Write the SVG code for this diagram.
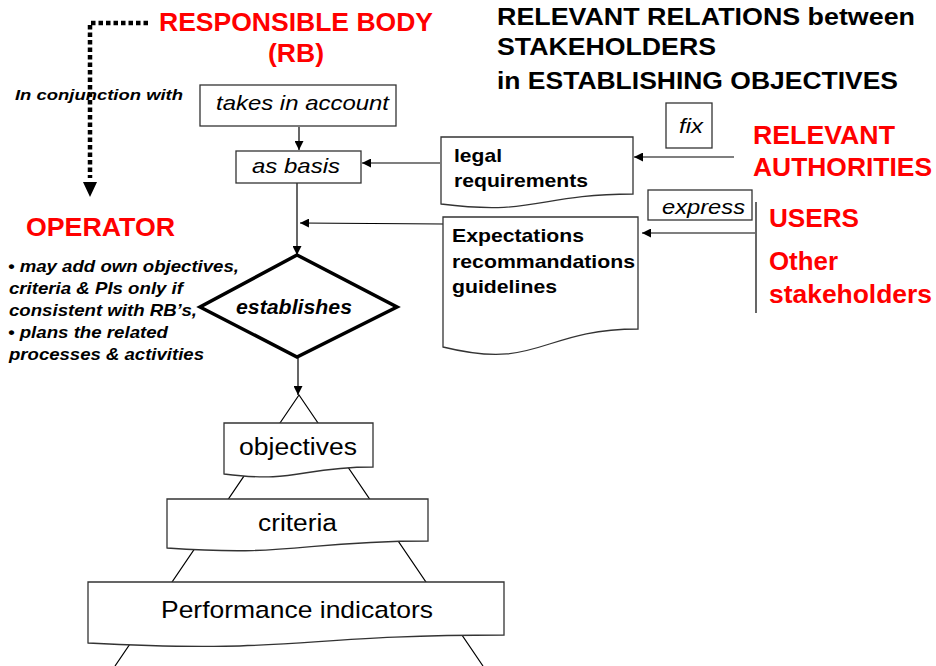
<svg xmlns="http://www.w3.org/2000/svg" width="936" height="666" viewBox="0 0 936 666">
<defs>
<marker id="ah" viewBox="0 0 10 10" refX="10" refY="5" markerWidth="9" markerHeight="9" markerUnits="userSpaceOnUse" orient="auto"><path d="M0,0 L10,5 L0,10 Z" fill="#000"/></marker>
<style>
.box{fill:#fff;stroke:#333;stroke-width:1.3}
.ln{stroke:#000;stroke-width:1.2;fill:none}
.red{fill:#ff0000;font-family:"Liberation Sans",Arial,sans-serif;font-weight:bold;font-size:26px}
.blk{fill:#000;font-family:"Liberation Sans",Arial,sans-serif}
.it{font-style:italic}
.b{font-weight:bold}
</style>
</defs>
<rect width="936" height="666" fill="#fff"/>

<g id="connectors">
<path d="M148,23 H90 V178" stroke="#000" stroke-width="4.5" stroke-dasharray="4.5 3" fill="none"/>
<path d="M83,182 L97,182 L90,197 Z" fill="#000"/>
<line class="ln" x1="299" y1="127" x2="299" y2="150" marker-end="url(#ah)"/>
<line class="ln" x1="440" y1="163" x2="362" y2="163" marker-end="url(#ah)"/>
<line class="ln" x1="297" y1="183" x2="297" y2="255" marker-end="url(#ah)"/>
<line class="ln" x1="443" y1="224" x2="300" y2="223" marker-end="url(#ah)"/>
<line class="ln" x1="298" y1="357" x2="298" y2="395" marker-end="url(#ah)"/>
<line class="ln" x1="734" y1="157" x2="634" y2="157" marker-end="url(#ah)"/>
<line class="ln" x1="755" y1="233" x2="642" y2="233" marker-end="url(#ah)"/>
<line class="ln" x1="756" y1="202" x2="756" y2="313"/>
<path class="ln" d="M115,666 L299,395 L483,666"/>
</g>

<g id="titles">
<text class="red" x="159" y="31" textLength="274" lengthAdjust="spacingAndGlyphs">RESPONSIBLE BODY</text>
<text class="red" x="268" y="62" textLength="56" lengthAdjust="spacingAndGlyphs">(RB)</text>
<text class="blk b" font-size="24" x="497" y="25" textLength="418" lengthAdjust="spacingAndGlyphs">RELEVANT RELATIONS between</text>
<text class="blk b" font-size="24" x="497" y="55" textLength="219" lengthAdjust="spacingAndGlyphs">STAKEHOLDERS</text>
<text class="blk b" font-size="24" x="497" y="89" textLength="401" lengthAdjust="spacingAndGlyphs">in ESTABLISHING OBJECTIVES</text>
<text class="blk b it" font-size="15.5" x="15" y="100" textLength="168" lengthAdjust="spacingAndGlyphs">In conjunction with</text>
</g>

<g id="takes">
<rect class="box" x="200" y="85" width="196" height="41"/>
<text class="blk it" font-size="21" x="216" y="110" textLength="173" lengthAdjust="spacingAndGlyphs">takes in account</text>
</g>

<g id="asbasis">
<rect class="box" x="236" y="151" width="125" height="32"/>
<text class="blk it" font-size="21" x="252" y="173" textLength="88" lengthAdjust="spacingAndGlyphs">as basis</text>
</g>

<g id="establishes">
<path d="M297,255 L397,307 L297,357 L200,307 Z" fill="#fff" stroke="#000" stroke-width="3.5" stroke-linejoin="miter"/>
<text class="blk b it" font-size="20" x="236" y="314" textLength="116" lengthAdjust="spacingAndGlyphs">establishes</text>
</g>

<g id="operator">
<text class="red" x="26" y="236" textLength="149" lengthAdjust="spacingAndGlyphs">OPERATOR</text>
<text class="blk b it" font-size="16.5">
<tspan x="8" y="272" textLength="231" lengthAdjust="spacingAndGlyphs">• may add own objectives,</tspan>
<tspan x="9" y="294" textLength="174" lengthAdjust="spacingAndGlyphs">criteria &amp; PIs only if</tspan>
<tspan x="9" y="316" textLength="188" lengthAdjust="spacingAndGlyphs">consistent with RB’s,</tspan>
<tspan x="8" y="338" textLength="160" lengthAdjust="spacingAndGlyphs">• plans the related</tspan>
<tspan x="9" y="360" textLength="195" lengthAdjust="spacingAndGlyphs">processes &amp; activities</tspan>
</text>
</g>

<g id="objectives">
<path class="box" d="M224,423 H373 V467 C298.5,467 298.5,483.5 224,474 Z"/>
<text class="blk" font-size="23" x="239" y="455" textLength="118" lengthAdjust="spacingAndGlyphs">objectives</text>
</g>

<g id="criteria">
<path class="box" d="M167,499 H428 V541 C297.5,541 297.5,557 167,548 Z"/>
<text class="blk" font-size="23" x="258" y="531" textLength="79" lengthAdjust="spacingAndGlyphs">criteria</text>
</g>

<g id="pi">
<path class="box" d="M88,582 H504 V635 C296,635 296,654 88,643 Z"/>
<text class="blk" font-size="24.5" x="161" y="618" textLength="272" lengthAdjust="spacingAndGlyphs">Performance indicators</text>
</g>

<g id="legal">
<path class="box" d="M441,137 H633 V194 C537,194 537,216 441,204 Z"/>
<text class="blk b" font-size="19" x="454" y="162" textLength="48" lengthAdjust="spacingAndGlyphs">legal</text>
<text class="blk b" font-size="19" x="454" y="187" textLength="134" lengthAdjust="spacingAndGlyphs">requirements</text>
</g>

<g id="expectations">
<path class="box" d="M443,217 H638 V329 C540,329 540,371 443,347 Z"/>
<text class="blk b" font-size="19" x="452" y="242" textLength="132" lengthAdjust="spacingAndGlyphs">Expectations</text>
<text class="blk b" font-size="19" x="452" y="268" textLength="183" lengthAdjust="spacingAndGlyphs">recommandations</text>
<text class="blk b" font-size="19" x="452" y="293" textLength="105" lengthAdjust="spacingAndGlyphs">guidelines</text>
</g>

<g id="fix">
<rect class="box" x="666" y="103" width="46" height="45"/>
<text class="blk it" font-size="21" x="679" y="133" textLength="24" lengthAdjust="spacingAndGlyphs">fix</text>
</g>

<g id="authorities">
<text class="red" x="753" y="144" textLength="142" lengthAdjust="spacingAndGlyphs">RELEVANT</text>
<text class="red" x="753" y="176" textLength="179" lengthAdjust="spacingAndGlyphs">AUTHORITIES</text>
</g>

<g id="express">
<rect class="box" x="648" y="190" width="104" height="30"/>
<text class="blk it" font-size="21" x="662" y="214" textLength="83" lengthAdjust="spacingAndGlyphs">express</text>
</g>

<g id="users">
<text class="red" x="769" y="227" textLength="90" lengthAdjust="spacingAndGlyphs">USERS</text>
<text class="red" x="769" y="270" textLength="69" lengthAdjust="spacingAndGlyphs">Other</text>
<text class="red" x="769" y="303" textLength="163" lengthAdjust="spacingAndGlyphs">stakeholders</text>
</g>
</svg>
